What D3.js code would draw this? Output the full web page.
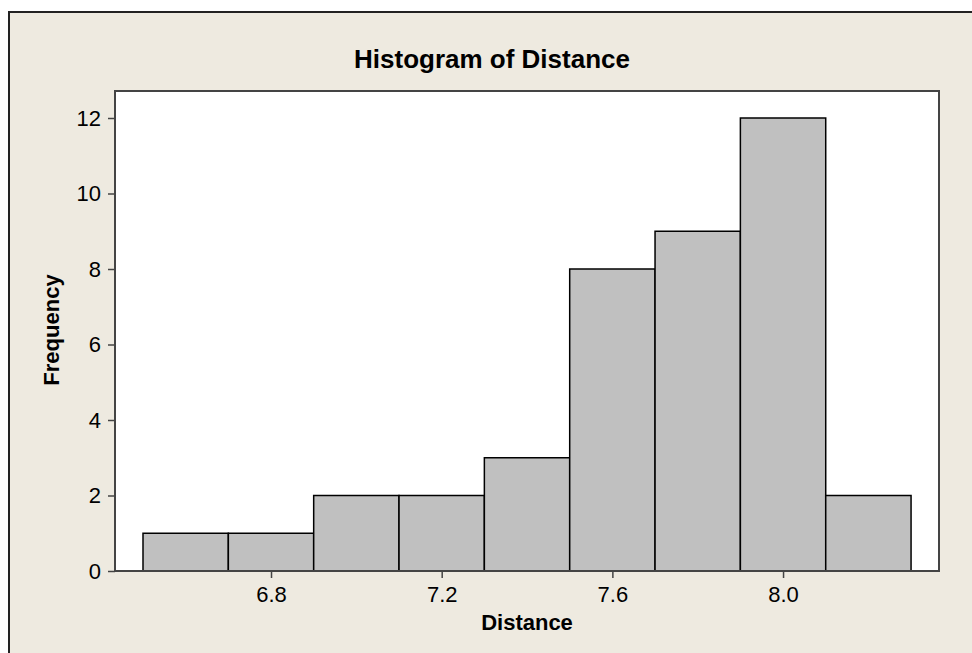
<!DOCTYPE html>
<html>
<head>
<meta charset="utf-8">
<script src="https://cdn.jsdelivr.net/npm/d3@7"></script>
<style>
  body { margin: 0; background: #ffffff; }
  svg { display: block; font-family: "Liberation Sans", Arial, sans-serif; }
</style>
</head>
<body>
<div class="chart"></div>
<script>
// bin edges (lower bound) and counts
var binStarts = [6.5, 6.7, 6.9, 7.1, 7.3, 7.5, 7.7, 7.9, 8.1];
var binWidth = 0.2;
var counts = [1, 1, 2, 2, 3, 8, 9, 12, 2];
var xTicks = [6.8, 7.2, 7.6, 8.0];
var yTicks = [0, 2, 4, 6, 8, 10, 12];

var width = 972, height = 653;
var plot = {left: 115, right: 939, top: 91, bottom: 571};

var svg = d3.select(".chart")
    .append("svg")
    .attr("width", width)
    .attr("height", height);

// beige graph region with its border
svg.append("rect")
    .attr("x", 9).attr("y", 12)
    .attr("width", width - 9).attr("height", height - 12)
    .attr("fill", "#eeeae0");
svg.append("path")
    .attr("d", "M9," + height + "V12H" + width)
    .attr("fill", "none")
    .attr("stroke", "#222")
    .attr("stroke-width", 2);

svg.append("rect")
    .attr("x", plot.left).attr("y", plot.top)
    .attr("width", plot.right - plot.left)
    .attr("height", plot.bottom - plot.top)
    .attr("fill", "#fff");

var xScale = d3.scaleLinear()
    .domain([6.5 - 28 / 426.7, 6.5 + (plot.right - 143) / 426.7])
    .range([plot.left, plot.right]);

var yScale = d3.scaleLinear()
    .domain([0, 12 * (plot.bottom - plot.top) / (plot.bottom - 118)])
    .range([plot.bottom, plot.top]);

svg.append("g")
    .selectAll("rect")
    .data(binStarts)
    .enter()
    .append("rect")
    .attr("x", function(d){ return xScale(d); })
    .attr("y", function(d, i){ return yScale(counts[i]); })
    .attr("width", function(d){ return xScale(d + binWidth) - xScale(d); })
    .attr("height", function(d, i){ return yScale(0) - yScale(counts[i]); })
    .attr("fill", "#c0c0c0")
    .attr("stroke", "#000")
    .attr("stroke-width", 1.5);

// frame
svg.append("rect")
    .attr("x", plot.left).attr("y", plot.top)
    .attr("width", plot.right - plot.left)
    .attr("height", plot.bottom - plot.top)
    .attr("fill", "none")
    .attr("stroke", "#444")
    .attr("stroke-width", 2);

var xAxis = d3.axisBottom(xScale)
    .tickValues(xTicks)
    .tickFormat(d3.format(".1f"))
    .tickSize(7).tickPadding(8).tickSizeOuter(0);
var yAxis = d3.axisLeft(yScale)
    .tickValues(yTicks)
    .tickSize(7).tickPadding(7).tickSizeOuter(0);

var gx = svg.append("g")
    .attr("transform", "translate(0," + plot.bottom + ")")
    .call(xAxis);
var gy = svg.append("g")
    .attr("transform", "translate(" + plot.left + ",0)")
    .call(yAxis);

[gx, gy].forEach(function(g){
    g.select(".domain").remove();
    g.selectAll(".tick line").attr("stroke", "#444").attr("stroke-width", 1.5);
    g.selectAll(".tick text")
        .attr("fill", "#000")
        .style("font-family", "'Liberation Sans', Arial, sans-serif")
        .style("font-size", "22px");
});

svg.append("text")
    .attr("x", 492).attr("y", 68)
    .attr("text-anchor", "middle")
    .style("font-size", "26px")
    .style("font-weight", "bold")
    .text("Histogram of Distance");

svg.append("text")
    .attr("x", 527).attr("y", 630)
    .attr("text-anchor", "middle")
    .style("font-size", "22px")
    .style("font-weight", "bold")
    .text("Distance");

svg.append("text")
    .attr("transform", "translate(59," + 330 + ") rotate(-90)")
    .attr("text-anchor", "middle")
    .style("font-size", "22px")
    .style("font-weight", "bold")
    .text("Frequency");
</script>
</body>
</html>
